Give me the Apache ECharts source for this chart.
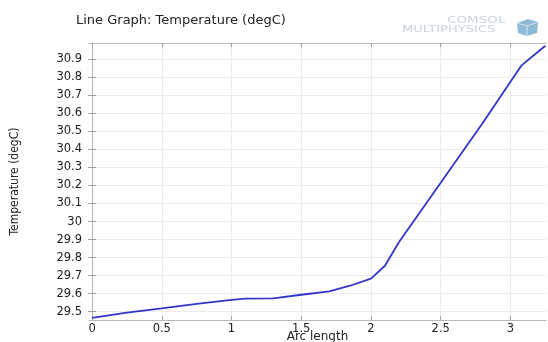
<!DOCTYPE html>
<html>
<head>
<meta charset="utf-8">
<script src="https://cdn.jsdelivr.net/npm/echarts@6/dist/echarts.min.js"></script>
<style>html,body{margin:0;padding:0;background:#fff}#c{width:548px;height:342px}</style>
</head>
<body>
<div id="c"></div>
<script>
const titleText = 'Line Graph: Temperature (degC)';
const xName = 'Arc length';
const yName = 'Temperature (degC)';
const arcLength = [0, 0.25, 0.5, 0.75, 1.0, 1.1, 1.3, 1.5, 1.7, 1.85, 2.0, 2.1, 2.2, 2.5, 2.8, 3.08, 3.25];
const temperature = [29.466, 29.495, 29.518, 29.543, 29.566, 29.572, 29.574, 29.594, 29.613, 29.644, 29.683, 29.755, 29.885, 30.215, 30.545, 30.866, 30.975];
const xTicks = [0, 0.5, 1, 1.5, 2, 2.5, 3];
const yTicks = [29.5, 29.6, 29.7, 29.8, 29.9, 30, 30.1, 30.2, 30.3, 30.4, 30.5, 30.6, 30.7, 30.8, 30.9];
const xRange = [-0.022, 3.255];
const yRange = [29.454, 30.99];

const chart = echarts.init(document.getElementById('c'), null, {renderer: 'canvas'});
const font = 'DejaVu Sans, sans-serif';
const frame = {show: true, lineStyle: {color: '#b8b8b8', width: 1}};
const tickStyle = {color: '#a0a0a0', width: 1};
const gridLine = {show: true, lineStyle: {color: '#ececec', width: 1}};

const data = arcLength.map((x, i) => [x, temperature[i]]);

chart.setOption({
  animation: false,
  backgroundColor: '#fff',
  title: {
    text: titleText, left: 71, top: 9,
    textStyle: {fontFamily: font, fontSize: 13, fontWeight: 'normal', color: '#222'}
  },
  graphic: [
    {type: 'text', x: 447, y: 16, scaleX: 1.5, style: {text: 'COMSOL', fontFamily: font, fontSize: 9, fill: '#c6d4de'}},
    {type: 'text', x: 402, y: 25, scaleX: 1.45, style: {text: 'MULTIPHYSICS', fontFamily: font, fontSize: 9, fill: '#c6d4de'}},
    {type: 'polygon', shape: {points: [[517, 23], [528, 19], [538, 22], [537, 33], [527, 36], [518, 33]]}, style: {fill: '#8fbad6'}},
    {type: 'polyline', shape: {points: [[517, 23], [527, 26], [538, 22]]}, style: {stroke: '#cfe2ee', lineWidth: 1, fill: null}},
    {type: 'line', shape: {x1: 527, y1: 26, x2: 527, y2: 36}, style: {stroke: '#cfe2ee', lineWidth: 1}}
  ],
  grid: {left: 89, right: 2, top: 43, bottom: 22, containLabel: false, outerBoundsMode: 'none'},
  xAxis: [{
    type: 'value', min: xRange[0], max: xRange[1], position: 'bottom',
    name: xName, nameLocation: 'middle', nameGap: 11, nameMoveOverlap: false,
    nameTextStyle: {fontFamily: font, fontSize: 12, color: '#222', verticalAlign: 'top'},
    axisLine: frame,
    axisTick: {show: true, inside: true, length: 4, customValues: xTicks, lineStyle: tickStyle},
    axisLabel: {customValues: xTicks, fontFamily: font, fontSize: 11.5, color: '#222', margin: 3, formatter: v => String(v)},
    splitLine: gridLine
  }, {
    type: 'value', min: xRange[0], max: xRange[1], position: 'top',
    axisLine: frame,
    axisTick: {show: true, inside: true, length: 4, customValues: xTicks, lineStyle: tickStyle},
    axisLabel: {show: false}, splitLine: {show: false}
  }],
  yAxis: [{
    type: 'value', min: yRange[0], max: yRange[1], position: 'left',
    name: yName, nameLocation: 'middle', nameGap: 68, nameRotate: 90, nameMoveOverlap: false,
    nameTextStyle: {fontFamily: "'DejaVu Sans Condensed', 'Liberation Sans Narrow', sans-serif", fontSize: 12, color: '#222'},
    axisLine: frame,
    axisTick: {show: true, inside: true, length: 4, customValues: yTicks, lineStyle: tickStyle},
    axisLabel: {customValues: yTicks, fontFamily: font, fontSize: 11.5, color: '#222', margin: 7, formatter: v => String(v)},
    splitLine: gridLine
  }, {
    type: 'value', min: yRange[0], max: yRange[1], position: 'right',
    axisLine: frame,
    axisTick: {show: true, inside: true, length: 4, customValues: yTicks, lineStyle: tickStyle},
    axisLabel: {show: false}, splitLine: {show: false}
  }],
  series: [{
    type: 'line', data: data, xAxisIndex: 0, yAxisIndex: 0,
    showSymbol: false, symbol: 'none', smooth: false,
    lineStyle: {color: '#3434c8', width: 1.8}
  }]
});
</script>
</body>
</html>
